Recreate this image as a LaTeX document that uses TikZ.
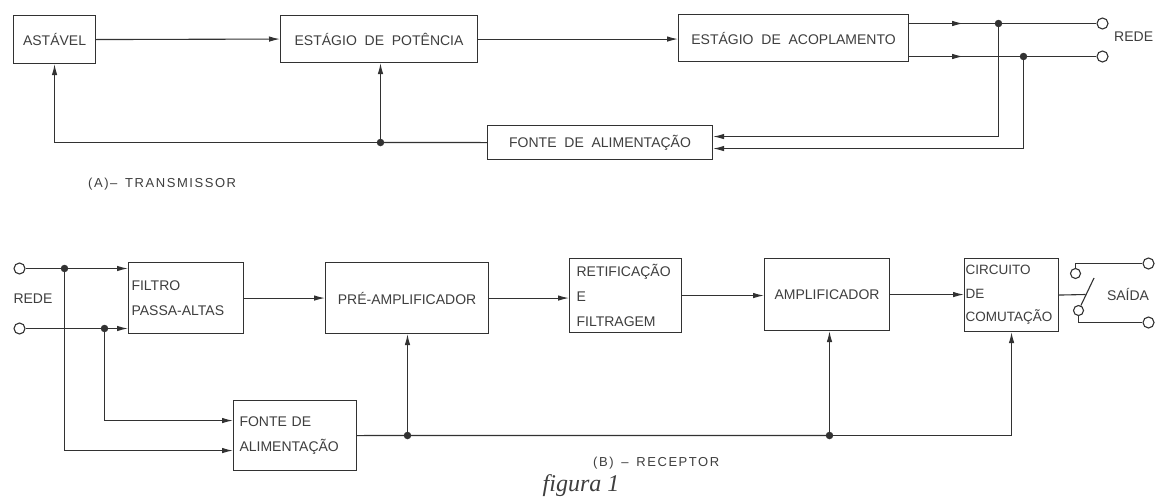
\documentclass[tikz,border=0pt]{standalone}
\usepackage{fontspec}
\setmainfont{Liberation Sans}
\newfontfamily\widefont[WordSpace=2.0]{Liberation Sans}
\newfontfamily\capfont[LetterSpace=12,WordSpace=1.5]{Liberation Sans}
\newfontfamily\figfont{Liberation Serif}
\usetikzlibrary{arrows.meta,decorations.markings,calc}
\definecolor{ink}{RGB}{50,50,50}
\definecolor{txt}{RGB}{62,62,62}
\tikzset{
  ln/.style={draw=ink, line width=1.1pt},
  arr/.style={ln, -{Latex[length=11pt,width=5.5pt]}},
  midarr/.style={ln, postaction={decorate}, decoration={markings, mark=at position 54pt with {\arrow{Latex[length=11pt,width=5.5pt]}}}},
  blk/.style={draw=ink, line width=1.1pt, anchor=north west, text=txt, inner sep=0pt,
              font=\fontsize{14}{25}\selectfont},
  lbl/.style={text=txt, inner sep=0pt, font=\fontsize{14}{17}\selectfont},
  jdot/.style={circle, fill=ink, minimum size=7.5pt, inner sep=0pt},
  term/.style={circle, draw=ink, line width=1.1pt, fill=white, minimum size=11pt, inner sep=0pt},
}
\begin{document}
\begin{tikzpicture}[x=1pt,y=-1pt]
\useasboundingbox[fill=white] (0,0) rectangle (1156,498);

% ---------------- (A) transmissor ----------------
\node[blk, minimum width=82pt, minimum height=48pt] (astavel) at (13,15) {ASTÁVEL};
\node[blk, minimum width=197pt, minimum height=47pt, font=\widefont\fontsize{14}{17}\selectfont] (pot) at (280,15) {ESTÁGIO DE POTÊNCIA};
\node[blk, minimum width=230pt, minimum height=47pt, font=\widefont\fontsize{14}{17}\selectfont] (acop) at (678,14) {ESTÁGIO DE ACOPLAMENTO};
\node[blk, minimum width=225pt, minimum height=34pt, font=\widefont\fontsize{14}{17}\selectfont] (fonteA) at (487,125) {FONTE DE ALIMENTAÇÃO};

\node[term] (tA1) at (1102.5,23.5) {};
\node[term] (tA2) at (1102.5,56.5) {};
\node[lbl, anchor=west] (redeA) at (1114,37) {REDE};
\node[jdot] (dA1) at (998.5,23.5) {};
\node[jdot] (dA2) at (1023.5,56.5) {};
\node[jdot] (dA) at (380.5,142.5) {};

\draw[arr] (astavel.east) -- (pot.west);
\draw[arr] (pot.east) -- (pot.east -| acop.west);
\draw[midarr] (acop.east |- tA1) -- (tA1);
\draw[midarr] (acop.east |- tA2) -- (tA2);
\draw[arr] (dA1.center) |- ([yshift=6pt]fonteA.east);
\draw[arr] (dA2.center) |- ([yshift=-6pt]fonteA.east);
\draw[ln] (fonteA.west) -- (dA.center);
\draw[arr] (dA.center) -- (dA |- pot.south);
\draw[arr] (dA.center) -| (astavel.south);

\node[lbl, anchor=west, font=\capfont\fontsize{13}{16}\selectfont] (capA) at (88,184) {(A)– TRANSMISSOR};

% ---------------- (B) receptor ----------------
\node[term] (tB1) at (19.5,268.5) {};
\node[term] (tB2) at (19.5,328.5) {};
\node[lbl] (redeB) at (33,299) {REDE};
\node[jdot] (dB1) at (64.5,268.5) {};
\node[jdot] (dB2) at (104.5,328.5) {};

\node[blk, minimum width=115pt, minimum height=71pt, inner xsep=3pt, text width=109pt, align=left] (filtro) at (128,262) {FILTRO\\PASSA-ALTAS};
\node[blk, minimum width=163pt, minimum height=71pt] (pre) at (325,262) {PRÉ-AMPLIFICADOR};
\node[blk, minimum width=112pt, minimum height=74pt, inner xsep=7pt, text width=98pt, align=left] (ret) at (569,258) {RETIFICAÇÃO\\E\\FILTRAGEM};
\node[blk, minimum width=125pt, minimum height=72pt] (amp) at (764,258) {AMPLIFICADOR};
\node[blk, minimum width=94pt, minimum height=73pt, inner xsep=1pt, text width=92pt, align=left, font=\fontsize{13.5}{23.5}\selectfont] (circ) at (964,258) {CIRCUITO\\DE\\COMUTAÇÃO};
\node[blk, minimum width=123pt, minimum height=70pt, inner xsep=6pt, text width=111pt, align=left] (fonteB) at (233,400) {FONTE DE\\ALIMENTAÇÃO};

\draw[arr] (tB1) -- (tB1 -| filtro.west);
\draw[arr] (tB2) -- (tB2 -| filtro.west);
\draw[arr] (dB2.center) |- ([yshift=15pt]fonteB.west);
\draw[arr] (dB1.center) |- ([yshift=-15pt]fonteB.west);
\draw[arr] (filtro.east) -- (pre.west);
\draw[arr] (pre.east) -- (pre.east -| ret.west);
\draw[arr] (ret.east) -- (ret.east -| amp.west);
\draw[arr] (amp.east) -- (amp.east -| circ.west);

\node[jdot] (e1) at (407.5,435.5) {};
\node[jdot] (e2) at (829.5,435.5) {};
\draw[ln] (fonteB.east) -- (e1.center) -- (e2.center);
\draw[arr] (e1.center) -- (e1 |- pre.south);
\draw[arr] (e2.center) -- (e2 |- amp.south);
\draw[arr] (e2.center) -| (circ.south);

% switch
\node[term, minimum size=10pt] (c1) at (1075.5,273.5) {};
\node[term, minimum size=10pt] (c2) at (1078.5,310.5) {};
\node[term] (o1) at (1148.5,263.5) {};
\node[term] (o2) at (1148.5,322.5) {};
\coordinate (bladeend) at (1094,278);
\coordinate (bj) at (1085.5,294.5);
\draw[ln] (c2) -- (bladeend);
\draw[ln] (circ.east) -- (bj);
\draw[ln] (c1.north) |- (o1);
\draw[ln] (c2.south) |- (o2);
\node[lbl] (saida) at (1128,294) {SAÍDA};

\node[lbl, anchor=west, font=\capfont\fontsize{13}{16}\selectfont] (capB) at (593,463) {(B) – RECEPTOR};
\node[text=txt, inner sep=0pt, font=\figfont\itshape\fontsize{24}{26}\selectfont] (fig) at (581,486) {figura 1};
\end{tikzpicture}
\end{document}
